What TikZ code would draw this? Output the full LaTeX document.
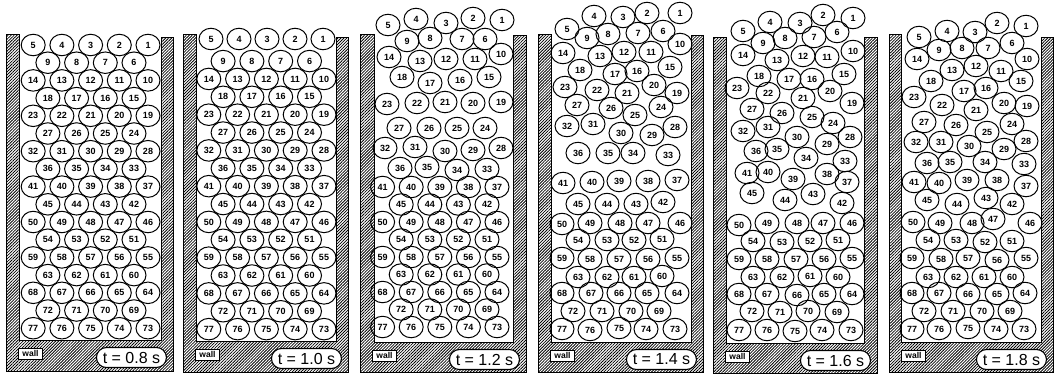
\documentclass[tikz,border=0pt]{standalone}
\usepackage{fontspec}
\setmainfont{Liberation Sans}
\usetikzlibrary{shapes.geometric,patterns.meta}
\tikzset{
  ball/.style={ellipse, draw, line width=1pt, minimum width=24pt, minimum height=21.5pt,
    inner sep=0pt, font=\fontsize{9}{9}\selectfont\bfseries},
  wallshape/.style={draw, line width=1pt, pattern={Lines[angle=45,distance=2.1pt,line width=0.8pt]}},
  walllabel/.style={draw, fill=white, line width=0.9pt, inner sep=1pt,
    font=\fontsize{8.5}{8.5}\selectfont\bfseries, minimum width=24pt, minimum height=11pt},
  timelabel/.style={draw, fill=white, line width=1.1pt, rounded corners=10pt,
    minimum width=70pt, minimum height=20pt, inner sep=0pt, font=\fontsize{16}{16}\selectfont},
}
% #1 id, #2 x0, #3 x1, #4 x2, #5 x3, #6 ytopL, #7 ytopR, #8 yin, #9 ybot
\newcommand\vessel[9]{%
  \draw[wallshape] (#2,#6) -- (#2,#9) -- (#5,#9) -- (#5,#7) -- (#4,#7) -- (#4,#8) -- (#3,#8) -- (#3,#6) -- cycle;
  \node[walllabel, anchor=west] (wall#1) at ({#2+12},{#8+13.5}) {wall};
}
\newcommand\timebox[4]{% #1 id, #2 x3, #3 yin, #4 text
  \node[timelabel, anchor=east] (time#1) at ({#2-6},{#3+17.5}) {#4};
}
% #1 id, #2 xR5, #3 xR4, #4 y0, #5 dx, #6 dy, #7 kstart
\newcommand\lattice[7]{%
  \foreach \k in {#7,...,16}{
    \pgfmathtruncatemacro\isodd{mod(\k,2)}
    \pgfmathtruncatemacro\cnt{5-\isodd}
    \pgfmathtruncatemacro\st{9*floor(\k/2)+1+5*\isodd}
    \pgfmathsetmacro\xr{#2-(#2-#3)*\isodd}
    \pgfmathsetmacro\yy{#4+\k*#6}
    \foreach \j in {1,...,\cnt}{
      \pgfmathtruncatemacro\num{\st+\j-1}
      \node[ball] (p#1n\num) at ({\xr-(\j-1)*#5},\yy) {\num};
    }
  }
}
\newcommand\balls[2]{\foreach \n/\x/\y in {#2}{\node[ball] (p#1n\n) at (\x,\y) {\n};}}
\begin{document}
\begin{tikzpicture}[x=1pt,y=-1pt]
\useasboundingbox (0,0) rectangle (1059,376);
% containers
\vessel{1}{6}{19}{161}{173}{34}{37}{340}{371}
\vessel{2}{183}{196}{336}{348}{34}{37}{341}{372}
\vessel{3}{360}{374}{513}{526}{34}{35}{342}{372}
\vessel{4}{538}{551}{691}{703}{34}{35}{342}{372}
\vessel{5}{713}{726}{864}{877}{37}{37}{343}{373}
\vessel{6}{889}{901}{1041}{1053}{34}{37}{342}{372}
\timebox{1}{173}{340}{t = 0.8 s}
\timebox{2}{348}{341}{t = 1.0 s}
\timebox{3}{526}{342}{t = 1.2 s}
\timebox{4}{703}{342}{t = 1.4 s}
\timebox{5}{877}{343}{t = 1.6 s}
\timebox{6}{1053}{342}{t = 1.8 s}
% panel 1
\lattice{1}{148}{134}{45}{28.7}{17.7}{0}
% panel 2
\balls{2}{5/211/39, 4/239/39, 3/267/39, 2/295/39, 1/323/39}
\lattice{2}{324}{309.5}{43.2}{28.8}{17.87}{1}
% panel 3
\balls{3}{1/502/20, 2/473/18, 3/446/23, 4/416/19, 5/388/25,
6/485/39, 7/462/39, 8/430/38, 9/407/41,
10/501/54, 11/475/59, 12/446/59, 13/420/61, 14/389/57,
15/489/77, 16/460/80, 17/430/83, 18/402/77,
19/501/102, 20/473/103, 21/445/102, 22/417/103, 23/387/104,
24/485/128, 25/457/128, 26/429/128, 27/399/128,
28/501/148, 29/473/150, 30/445/151, 31/415/147, 32/385/148,
33/487/169, 34/457/170, 35/427/167, 36/400/168}
\lattice{3}{497}{487}{47}{28.6}{17.5}{8}
% panel 4
\balls{4}{1/680/13, 2/647/13, 3/623/17, 4/594/16, 5/567/29,
6/663/31, 7/638/33, 8/608/34, 9/587/38,
10/680/44, 11/651/52, 12/624/52, 13/600/56, 14/563/53,
15/670/67, 16/637/71, 17/615/74, 18/580/70,
19/677/93, 20/654/85, 21/627/93, 22/597/90, 23/565/87,
24/661/107, 25/635/115, 26/611/108, 27/577/105,
28/675/127, 29/652/135, 30/621/133, 31/593/124, 32/567/126,
33/668/155, 34/633/153, 35/608/153, 36/578/153,
37/677/180, 38/648/181, 39/619/181, 40/592/182, 41/563/183,
42/663/202, 43/636/204, 44/607/204, 45/578/204,
46/680/223, 47/648/223, 48/620/223, 49/590/223, 50/562/224,
51/662/239, 52/634/240, 53/607/240, 54/578/240,
55/677/258, 56/648/259, 57/619/259, 58/590/259, 59/562/258,
60/662/276, 61/634/277, 62/607/277, 63/578/277,
64/677/293, 65/647/293, 66/619/293, 67/591/293, 68/562/293,
69/659/311, 70/631/311, 71/602/311, 72/573/311,
73/675/329, 74/646/329, 75/619/328, 76/590/330, 77/562/329}
% panel 5
\balls{5}{1/853/18, 2/823/15, 3/800/23, 4/770/22, 5/743/31,
6/837/32, 7/814/37, 8/785/38, 9/763/43,
10/853/51, 11/827/57, 12/803/56, 13/777/60, 14/743/55,
15/844/74, 16/812/79, 17/789/79, 18/759/76,
19/852/103, 20/830/91, 21/803/98, 22/768/93, 23/737/88,
24/833/123, 25/812/117, 26/782/113, 27/752/109,
28/850/137, 29/827/144, 30/797/137, 31/768/127, 32/743/131,
33/845/161, 34/806/158, 35/777/149, 36/756/151,
37/847/182, 38/827/174, 39/793/179, 40/768/172, 41/747/173,
42/842/203, 43/813/194, 44/785/200, 45/752/193,
46/852/223, 47/823/223, 48/797/223, 49/767/223, 50/739/225,
51/838/240, 52/810/241, 53/782/242, 54/753/241,
55/852/258, 56/824/259, 57/796/259, 58/767/259, 59/739/259,
60/838/277, 61/810/276, 62/782/277, 63/753/277,
64/852/294, 65/824/294, 66/797/295, 67/767/294, 68/739/294,
69/837/312, 70/808/311, 71/780/312, 72/752/311,
73/851/330, 74/822/330, 75/795/331, 76/767/330, 77/739/330}
% panel 6
\balls{6}{1/1026/26, 2/997/23, 3/975/32, 4/947/31, 5/919/37,
6/1012/43, 7/988/48, 8/962/48, 9/939/50,
10/1027/59, 11/1001/71, 12/976/66, 13/952/70, 14/917/59,
15/1021/81, 16/986/88, 17/964/91, 18/931/81,
19/1027/106, 20/1004/103, 21/976/110, 22/942/105, 23/914/97,
24/1012/124, 25/987/132, 26/956/125, 27/924/122,
28/1026/141, 29/1004/149, 30/969/146, 31/941/142, 32/916/142,
33/1024/164, 34/985/162, 35/950/162, 36/927/163,
37/1026/186, 38/997/180, 39/967/180, 40/939/183, 41/914/182,
42/1012/204, 43/986/198, 44/957/204, 45/927/200,
46/1030/223, 47/993/219, 48/972/223, 49/940/223, 50/913/222,
51/1012/241, 52/985/242, 53/956/240, 54/928/240,
55/1026/258, 56/997/260, 57/968/258, 58/941/259, 59/912/258,
60/1012/277, 61/984/277, 62/956/277, 63/928/277,
64/1025/293, 65/997/294, 66/968/294, 67/939/293, 68/912/293,
69/1010/311, 70/982/311, 71/953/311, 72/924/311,
73/1024/329, 74/996/329, 75/968/328, 76/939/329, 77/912/329}
\end{tikzpicture}
\end{document}
